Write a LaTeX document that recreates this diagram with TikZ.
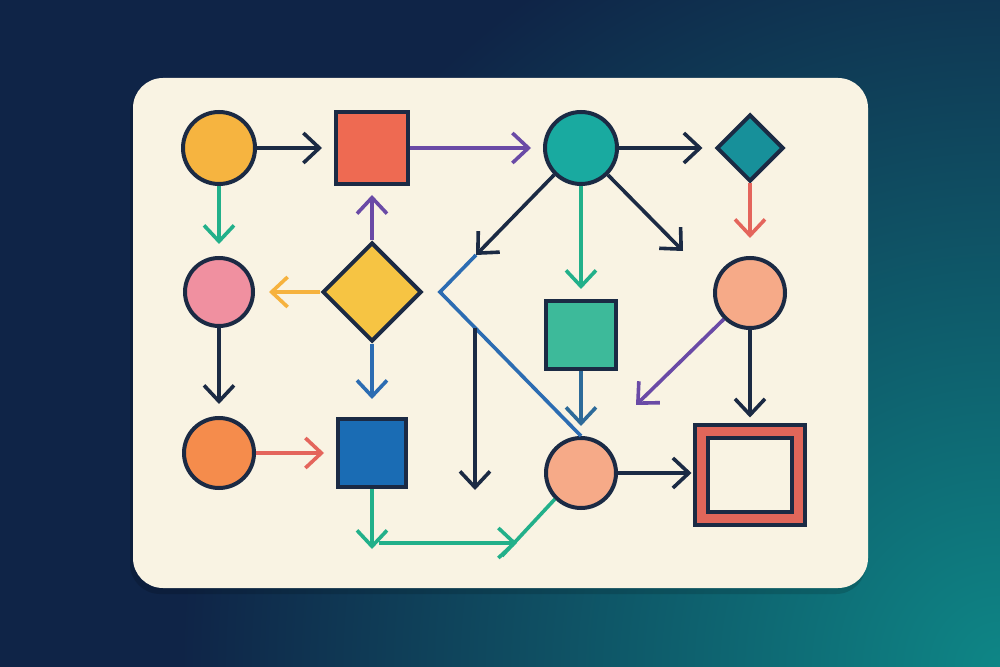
\documentclass[tikz,border=0pt]{standalone}
\usepackage{xcolor}
\usepackage{tikz}
\usetikzlibrary{shapes.geometric,arrows.meta,positioning}
\definecolor{ink}{HTML}{1B2A44}
\definecolor{bgnavy}{HTML}{0F2447}
\definecolor{bgteal}{HTML}{0E8686}
\definecolor{card}{HTML}{F9F3E3}
\definecolor{cyel}{HTML}{F6B440}
\definecolor{cred}{HTML}{EE6A52}
\definecolor{cteal}{HTML}{19AAA0}
\definecolor{cdteal}{HTML}{17909A}
\definecolor{cpink}{HTML}{F090A0}
\definecolor{cgold}{HTML}{F6C443}
\definecolor{cmint}{HTML}{3DBA9A}
\definecolor{csalm}{HTML}{F6AA88}
\definecolor{corng}{HTML}{F58C4C}
\definecolor{cblue}{HTML}{1A6CB4}
\definecolor{cframe}{HTML}{E0665A}
\definecolor{lgreen}{HTML}{22B08A}
\definecolor{lpurple}{HTML}{6A4AA6}
\definecolor{lred}{HTML}{E4655C}
\definecolor{lorange}{HTML}{F6B23E}
\definecolor{lblue}{HTML}{2C6CB2}
\definecolor{lsteel}{HTML}{2D6A99}
\tikzset{
  crc/.style  = {circle, draw=ink, line width=2pt, minimum size=35pt, inner sep=0pt},
  sqr/.style  = {rectangle, draw=ink, line width=2pt, minimum size=35pt, inner sep=0pt},
  dmd/.style  = {diamond, draw=ink, line width=2pt, minimum size=33pt, inner sep=0pt},
  frm/.style  = {rectangle, draw=ink, double=cframe, double distance=4.5pt, line width=2pt,
                 fill=card, minimum width=48.5pt, minimum height=43.5pt, inner sep=0pt},
  fl/.style   = {-{Straight Barb[length=8pt,width=15pt]}, line width=1.8pt, ink, shorten >=6pt},
  flg/.style  = {fl, lgreen},
  flp/.style  = {fl, lpurple},
  flr/.style  = {fl, lred},
  flo/.style  = {fl, lorange},
  flb/.style  = {fl, lblue},
  fls/.style  = {fl, lsteel},
  ln/.style   = {line width=1.8pt},
}
\begin{document}
\begin{tikzpicture}[x=0.5pt, y=-0.5pt]
  \useasboundingbox (0,0) rectangle (1000,667);
  \fill[bgnavy] (0,0) rectangle (1000,667);
  \begin{scope}
    \clip (0,0) rectangle (1000,667);
    \shade[inner color=bgteal, outer color=bgnavy] (1000,667) circle (820);
  \end{scope}
  \fill[black, opacity=.14, rounded corners=15pt] (130,83) rectangle (866,594);
  \fill[card, rounded corners=15pt] (133,78) rectangle (868,588);

  \node[crc, fill=cyel, minimum size=36pt] (src) at (219,148) {};
  \node[sqr, fill=cred, minimum size=36pt] (proc) at (372,148) {};
  \node[crc, fill=cteal, minimum size=36pt] (hub) at (581,148) {};
  \node[dmd, fill=cdteal, minimum size=33.5pt] (chk) at (750,148) {};
  \node[crc, fill=cpink, minimum size=34pt] (alt) at (219,292) {};
  \node[dmd, fill=cgold, minimum size=49.5pt] (dec) at (372,292) {};
  \node[sqr, fill=cmint, minimum width=35pt, minimum height=34pt] (stage) at (581,335) {};
  \node[crc, fill=csalm] (aux) at (750,293) {};
  \node[crc, fill=corng] (ent) at (219,453) {};
  \node[sqr, fill=cblue, minimum size=34pt] (task) at (372,453) {};
  \node[crc, fill=csalm] (join) at (581,473) {};
  \node[frm] (sink) at (750,475) {};

  \coordinate (nw) at (476,255);
  \coordinate (se) at (683,251);
  \coordinate (sw) at (636,405);
  \coordinate (bend) at (440,292);
  \coordinate (drop) at (475,328);
  \coordinate (dropend) at (475,490);
  \coordinate (low) at (372,549);
  \coordinate (bl) at (379,543);
  \coordinate (br) at (517,543);
  \coordinate (tail) at (502,556);

  \draw[fl] (src) -- (proc);
  \draw[flp] (proc) -- (hub);
  \draw[fl] (hub) -- (chk);
  \draw[flg] (src) -- (alt);
  \draw[flr, shorten >=9pt] (chk) -- (aux);
  \draw[flp, shorten >=4.5pt] (dec) -- (proc);
  \draw[flo, shorten >=7pt] (dec) -- (alt);
  \draw[fl] (alt) -- (ent);
  \draw[flb, shorten >=9pt] (dec) -- (task);
  \draw[flr] (ent) -- (task);
  \draw[flg, shorten >=5pt] (hub) -- (stage);
  \draw[fls, shorten >=5pt] (stage) -- (join);
  \draw[fl] (aux) -- (sink);
  \draw[fl, shorten >=4pt] (join.east) -- (join -| sink.west);
  \draw[ln, lblue] (nw) -- (bend) -- (join.north);
  \draw[fl, shorten >=0pt] (hub.225) -- (nw);
  \draw[fl, shorten >=0pt] (hub.-45) -- (se);
  \draw[flp, shorten >=0pt] (aux.225) -- (sw);
  \draw[fl, shorten >=0pt] (drop) -- (dropend);
  \draw[flg, shorten >=0pt] (task) -- (low);
  \draw[flg, shorten >=0pt] (bl) -- (br);
  \draw[ln, lgreen] (join.225) -- (tail);
\end{tikzpicture}
\end{document}
